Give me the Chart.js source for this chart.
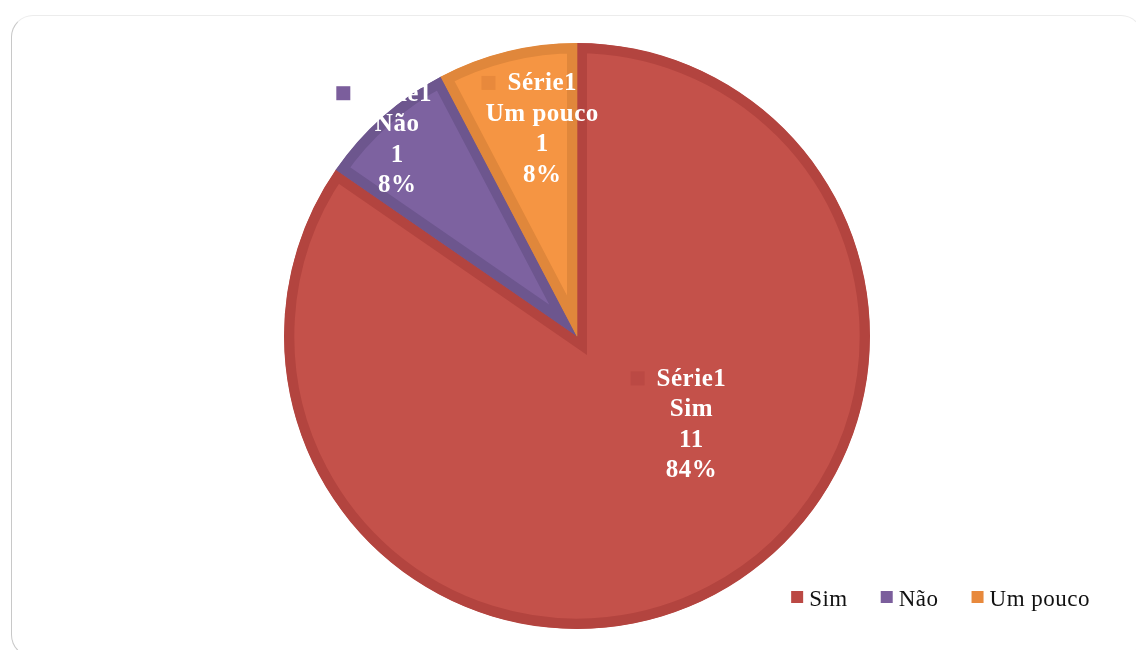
<!DOCTYPE html>
<html>
<head>
<meta charset="utf-8">
<script src="https://cdn.jsdelivr.net/npm/chart.js@4/dist/chart.umd.min.js"></script>
<style>
  html, body { margin: 0; padding: 0; background: #fff; }
  #wrap { position: relative; width: 1136px; height: 650px; overflow: hidden; }
  #frame {
    position: absolute; left: 11px; top: 15px; width: 1130px; height: 640px;
    border: 1px solid #ececec; border-left-color: #c8c8c8; border-radius: 22px;
  }
  #pie { position: absolute; left: 0; top: 0; }
</style>
</head>
<body>
<div id="wrap">
  <div id="frame"></div>
  <canvas id="pie" width="1136" height="650"></canvas>
</div>
<script>
// ── Data ──────────────────────────────────────────────────────
const seriesName = "Série1";
const categories = ["Sim", "Não", "Um pouco"];
const values = [11, 1, 1];
const percentLabels = ["84%", "8%", "8%"];

// ── Colours ───────────────────────────────────────────────────
const FILLS   = ["#C4514A", "#7D62A0", "#F59543"];
const BORDERS = ["#B3443F", "#6D568E", "#E0873B"];
const KEYS    = ["#BB4944", "#7B5E9C", "#E8893C"];

// label placement: angle shift (deg) from slice middle, radius fraction
const LABEL_POS = [
  { shift: -24.4, r: 0.495 },
  { shift: -1.0,  r: 0.908 },
  { shift: 4.3,   r: 0.714 }
];

const SERIF = '"Liberation Serif", "Times New Roman", serif';

// ── Data labels (Excel style) ─────────────────────────────────
const dataLabels = {
  id: "dataLabels",
  afterDatasetsDraw(chart) {
    const ctx = chart.ctx;
    const meta = chart.getDatasetMeta(0);
    ctx.save();
    ctx.font = "bold 25px " + SERIF;
    ctx.letterSpacing = "0.5px";
    ctx.textAlign = "center";
    ctx.textBaseline = "middle";
    meta.data.forEach((arc, i) => {
      const p = arc.getProps(["x", "y", "startAngle", "endAngle", "outerRadius"], true);
      const mid = (p.startAngle + p.endAngle) / 2 + LABEL_POS[i].shift * Math.PI / 180;
      const cx = p.x + Math.cos(mid) * p.outerRadius * LABEL_POS[i].r;
      const cy = p.y + Math.sin(mid) * p.outerRadius * LABEL_POS[i].r;
      const lines = [seriesName, categories[i], String(values[i]), percentLabels[i]];
      const lh = 30.5;
      const y0 = cy - lh * (lines.length - 1) / 2;
      // legend key in front of the first line
      const w0 = ctx.measureText(lines[0]).width;
      ctx.fillStyle = KEYS[i];
      ctx.fillRect(cx - w0 / 2 - 26, y0 - 8, 14, 14);
      ctx.fillStyle = "#fff";
      lines.forEach((t, k) => ctx.fillText(t, cx, y0 + k * lh));
    });
    ctx.restore();
  }
};

// ── Bottom-right legend ───────────────────────────────────────
const cornerLegend = {
  id: "cornerLegend",
  afterDraw(chart) {
    const ctx = chart.ctx;
    ctx.save();
    ctx.font = "23px " + SERIF;
    ctx.letterSpacing = "0.5px";
    ctx.textBaseline = "alphabetic";
    ctx.textAlign = "left";
    const box = 12, gapBox = 6, gapItem = 33;
    const widths = categories.map(c => ctx.measureText(c).width);
    const total = widths.reduce((a, w) => a + box + gapBox + w, 0) + gapItem * (categories.length - 1);
    let x = chart.width - 46 - total;
    const base = 606;
    categories.forEach((c, i) => {
      ctx.fillStyle = KEYS[i];
      ctx.fillRect(x, base - 15, box, box);
      x += box + gapBox;
      ctx.fillStyle = "#111";
      ctx.fillText(c, x, base);
      x += widths[i] + gapItem;
    });
    ctx.restore();
  }
};

// ── Chart ─────────────────────────────────────────────────────
new Chart(document.getElementById("pie").getContext("2d"), {
  type: "pie",
  data: {
    labels: categories,
    datasets: [{
      label: seriesName,
      data: values,
      backgroundColor: FILLS,
      borderColor: BORDERS,
      borderWidth: 10,
      borderAlign: "inner",
      borderJoinStyle: "miter",
      hoverOffset: 0
    }]
  },
  options: {
    responsive: false,
    animation: false,
    layout: { padding: { top: 43, bottom: 21, left: 18, right: 0 } },
    plugins: {
      legend: { display: false },
      tooltip: { enabled: false }
    }
  },
  plugins: [dataLabels, cornerLegend]
});
</script>
</body>
</html>
